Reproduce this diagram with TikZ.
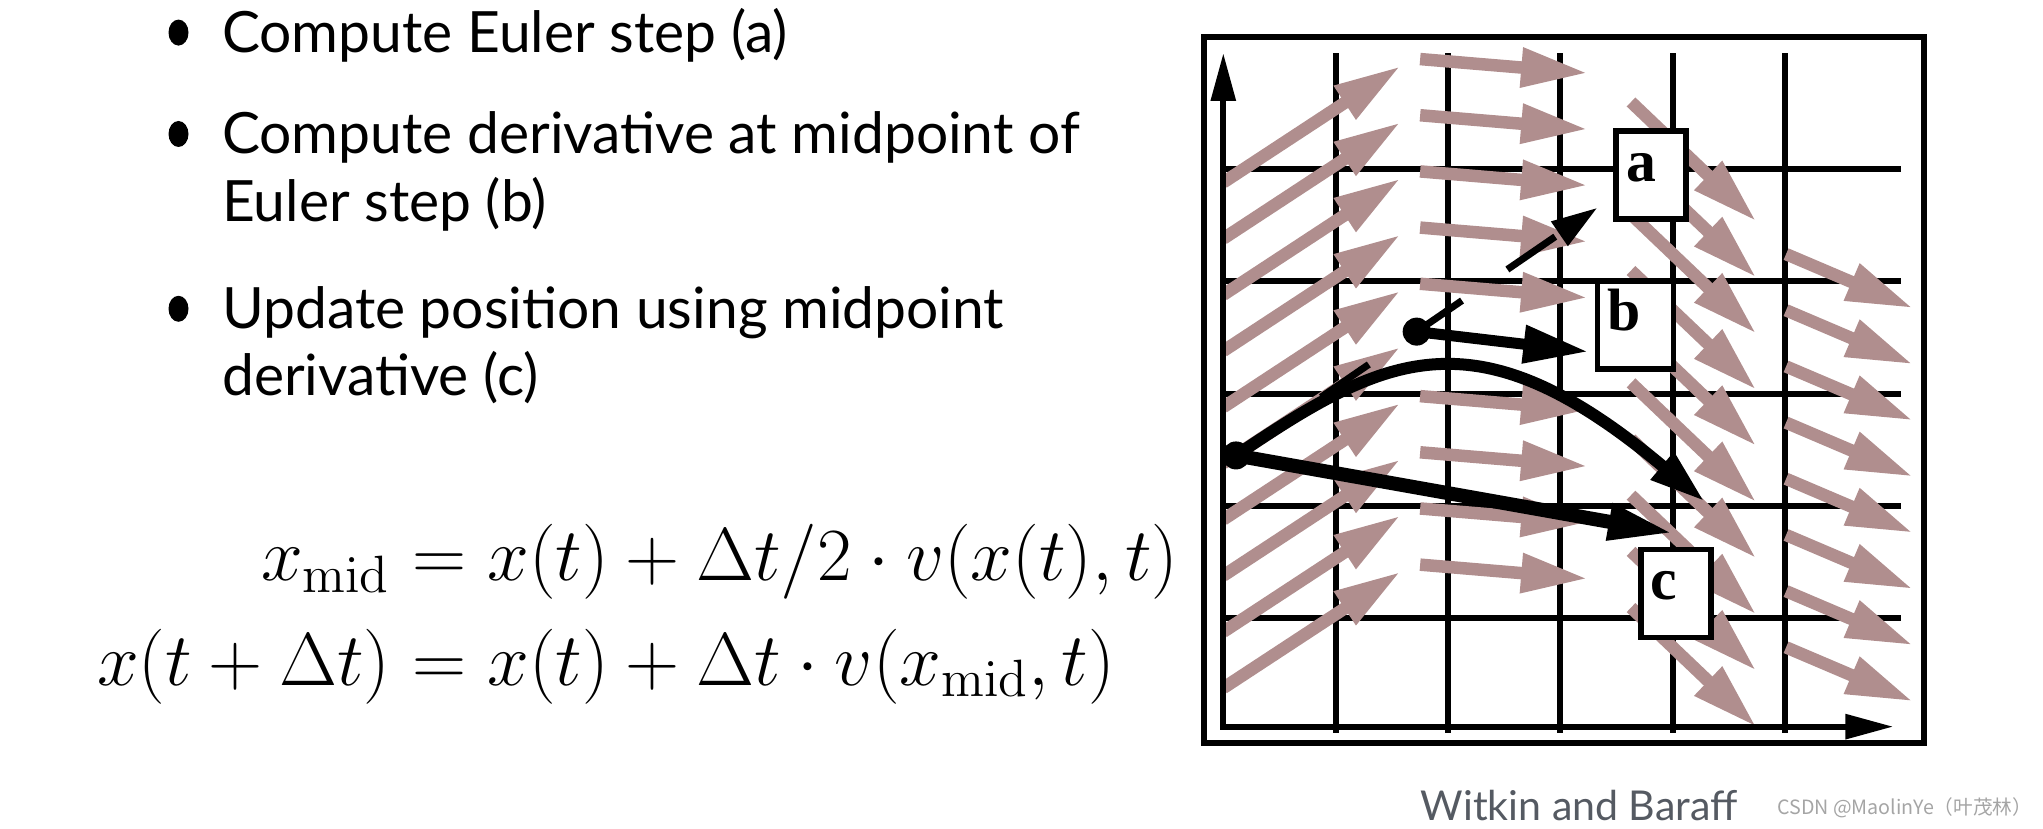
\RequirePackage{fix-cm}
\documentclass[tikz,border=0pt]{standalone}
\usepackage{amsmath}
\usepackage[no-math]{fontspec}
\setmainfont{Lato}
\newfontfamily\labelfont{Liberation Serif}
\newfontfamily\cjkfont{Noto Sans CJK SC}
\usepackage{xcolor}
\usetikzlibrary{arrows.meta, positioning}

\definecolor{fieldpink}{RGB}{176,142,142}
\definecolor{creditgray}{RGB}{85,90,98}
\definecolor{markgray}{RGB}{165,165,165}

\begin{document}
\begin{tikzpicture}[
    item/.style={anchor=base west, inner sep=0pt, font=\fontsize{16.2}{19}\selectfont},
    eq/.style={inner sep=0pt, font=\fontsize{21.35}{25}\selectfont},
    gridline/.style={draw, line width=0.06cm},
    axis/.style={draw, line width=0.06cm, {Triangle[length=0.48cm, width=0.24cm]}-{Triangle[length=0.48cm, width=0.24cm]}},
    field/.style={draw=fieldpink, line width=0.125cm, -{Triangle[length=0.67cm, width=0.37cm]}},
    eulerstep/.style={draw, line width=0.07cm, dash pattern=on 0.58cm off 0.55cm, dash phase=0.1cm, -{Triangle[length=0.46cm, width=0.28cm]}},
    trajectory/.style={draw, line width=0.12cm, -{Triangle[length=0.56cm, width=0.33cm]}},
    midstep/.style={draw, line width=0.11cm, -{Triangle[length=0.65cm, width=0.36cm]}},
    fullstep/.style={draw, line width=0.14cm, -{Triangle[length=0.66cm, width=0.34cm]}},
    labelbox/.style={rectangle, draw, fill=white, line width=0.055cm, text width=0.5cm, inner xsep=0.1cm, inner ysep=0.1cm, text height=0.4cm, text depth=0.28cm, align=left, font=\labelfont\bfseries\fontsize{17}{17}\selectfont}
]
    \useasboundingbox (0,0) rectangle (20.43,8.29);

    % Steps of the midpoint method
    \node[item] (step1) at (2.215,7.764) {Compute Euler step (a)};
    \node[item] (step2) at ([yshift=-1.014cm]step1.base west) {Compute derivative at midpoint of};
    \node[item] (step2b) at ([yshift=-0.68cm]step2.base west) {Euler step (b)};
    \node[item] (step3) at ([yshift=-1.068cm]step2b.base west) {Update position using midpoint};
    \node[item] (step3b) at ([yshift=-0.672cm]step3.base west) {derivative (c)};
    \foreach \s in {step1, step2, step3}
        \fill ([xshift=-0.43cm, yshift=0.2cm]\s.base west) ellipse [x radius=0.1cm, y radius=0.13cm];

    % Update formulas
    \node[eq, anchor=base east] (xmid) at (3.91,2.48) {$x_{\mathrm{mid}}$};
    \node[eq, anchor=base west] (xmidrhs) at (xmid.base east) {${}= x(t) + \Delta t/2 \cdot v(x(t),t)$};
    \node[eq, anchor=base east] (xnext) at ([yshift=-1.046cm]xmid.base east) {$x(t+\Delta t)$};
    \node[eq, anchor=base west] (xnextrhs) at (xnext.base east) {${}= x(t) + \Delta t \cdot v(x_{\mathrm{mid}},t)$};

    % Phase plot
    \begin{scope}[shift={(12.233,0.984)}, x=1.1235cm, y=1.1235cm]
        \draw[gridline] (-0.172,-0.110) rectangle (6.237,6.174);
        \foreach \i in {1,...,5} {
            \draw[gridline] (\i,-0.021) -- (\i,6.031);
            \draw[gridline] (0,\i) -- (6.03,\i);
        }

        % velocity field
        \begin{scope}
            \clip (0.025,0) rectangle (1.75,6.2);
            \foreach \k in {0,...,9}
                \draw[field] (0,{4.879-0.5*\k}) -- ++(1.579,1.036);
        \end{scope}
        \foreach \k in {0,1,2,3,4,6,7,8,9}
            \draw[field] (1.752,{5.977-0.5*\k}) -- ++(1.495,-0.125);
        \foreach \k in {0,...,9}
            \draw[field] (3.629,{5.595-0.5*\k}) -- ++(1.118,-1.065);
        \foreach \k in {0,...,7}
            \draw[field] (5.009,{4.241-0.5*\k}) -- ++(1.132,-0.482);

        \draw[axis] (0,6.031) -- (0,0.035) -- (5.964,0.035);

        % midpoint method
        \coordinate (start) at (0.113,2.449);
        \coordinate (mid) at (1.721,3.551);
        \coordinate (euler) at (3.329,4.653);
        \coordinate (midtip) at (3.249,3.372);
        \coordinate (newpos) at (4.012,1.756);
        \coordinate (curveend) at (4.287,2.037);

        \draw[trajectory] (start) .. controls (1.441,3.344) and (2.242,3.754) .. (curveend);
        \draw[eulerstep] (start) -- (euler);
        \draw[midstep] (mid) -- (midtip);
        \draw[fullstep] (start) -- (newpos);
        \fill (start) circle (0.14cm);
        \fill (mid) circle (0.14cm);

        \node[labelbox] (boxa) at (3.807,4.945) {a};
        \node[labelbox, text width=0.56cm] (boxb) at (3.669,3.610) {b};
        \node[labelbox] (boxc) at (4.029,1.220) {c};
    \end{scope}

    % Credits
    \node[anchor=base west, inner sep=0pt, text=creditgray, font=\fontsize{11.7}{14}\selectfont] (credit) at (14.2,0.08) {Witkin and Baraff};
    \node[anchor=base east, inner sep=0pt, text=markgray, font=\cjkfont\fontsize{5.6}{6}\selectfont] (mark) at (20.33,0.14) {CSDN @MaolinYe（叶茂林）};
\end{tikzpicture}
\end{document}
